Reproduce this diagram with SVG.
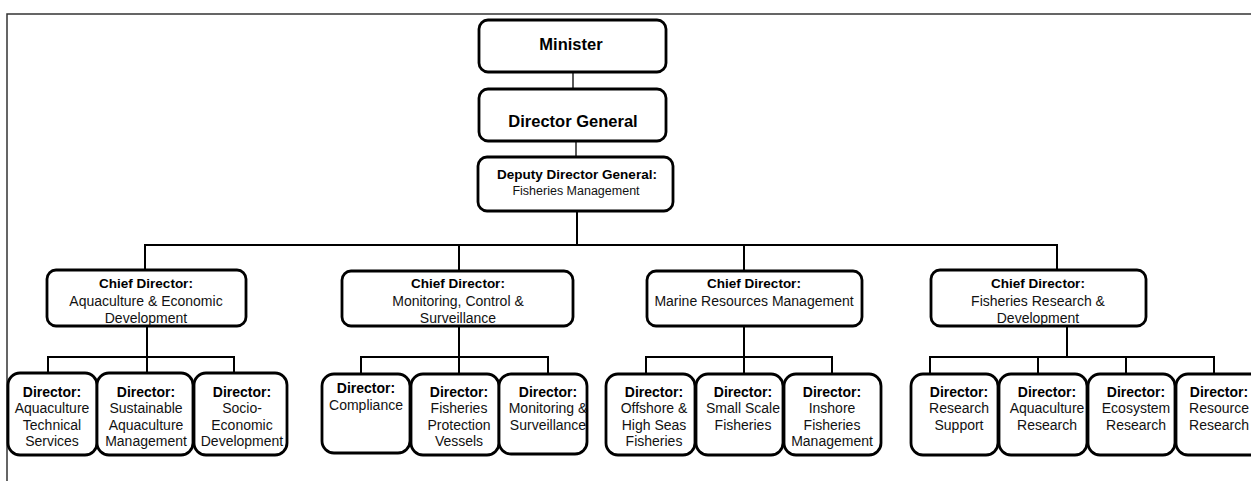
<svg xmlns="http://www.w3.org/2000/svg" width="1251" height="481" viewBox="0 0 1251 481">
<style>
.bg{fill:#fff}
.frame{stroke:#333;stroke-width:1.5;fill:none}
.box{fill:#fff;stroke:#000;stroke-width:2.8}
.ln{stroke:#000;stroke-width:2;fill:none}
.thin{stroke:#000;stroke-width:1.3;fill:none}
text{font-family:"Liberation Sans",Arial,sans-serif;text-anchor:middle;fill:#111}
.b{font-weight:bold;fill:#000}
.t16{font-size:16.5px}
.t14{font-size:14px}
.t135{font-size:13.5px}
.t125{font-size:12.5px}
</style>
<rect class="bg" x="0" y="0" width="1251" height="481"/>
<path class="frame" d="M7,481 V14 H1251"/>

<g id="connectors">
<path class="thin" d="M573,72 V89"/>
<path class="thin" d="M576,141 V157"/>
<path class="ln" d="M577,211 V245"/>
<path class="ln" d="M145,270 V245 H1057 V270"/>
<path class="ln" d="M459,245 V271"/>
<path class="ln" d="M744,245 V271"/>
<path class="ln" d="M147,326 V373"/>
<path class="ln" d="M48,373 V357 H234 V373"/>
<path class="ln" d="M459,326 V374"/>
<path class="ln" d="M361,374 V357 H548 V374"/>
<path class="ln" d="M744,326 V374"/>
<path class="ln" d="M646,374 V357 H832 V374"/>
<path class="ln" d="M1067,326 V357"/>
<path class="ln" d="M930,374 V357 H1214 V374"/>
<path class="ln" d="M1038,357 V374"/>
<path class="ln" d="M1126,357 V374"/>
</g>

<g id="minister">
<rect class="box" x="479" y="20" width="187" height="52" rx="9"/>
<text class="b t16" x="571" y="50">Minister</text>
</g>
<g id="director-general">
<rect class="box" x="479" y="89" width="187" height="52" rx="9"/>
<text class="b t16" x="573" y="127">Director General</text>
</g>
<g id="deputy-director-general">
<rect class="box" x="478" y="157" width="195" height="54" rx="9"/>
<text class="b t135" x="577" y="179">Deputy Director General:</text>
<text class="t125" x="576" y="195">Fisheries Management</text>
</g>

<g id="cd-aquaculture">
<rect class="box" x="47" y="270" width="199" height="56" rx="9"/>
<text class="b t135" x="146" y="288">Chief Director:</text>
<text class="t14" x="146" y="306">Aquaculture &amp; Economic</text>
<text class="t14" x="146" y="323">Development</text>
</g>
<g id="cd-mcs">
<rect class="box" x="342" y="271" width="231" height="55" rx="9"/>
<text class="b t135" x="458" y="288">Chief Director:</text>
<text class="t14" x="458" y="306">Monitoring, Control &amp;</text>
<text class="t14" x="458" y="323">Surveillance</text>
</g>
<g id="cd-marine">
<rect class="box" x="647" y="271" width="215" height="55" rx="9"/>
<text class="b t135" x="754" y="288">Chief Director:</text>
<text class="t14" x="754" y="306">Marine Resources Management</text>
</g>
<g id="cd-research">
<rect class="box" x="931" y="270" width="215" height="56" rx="9"/>
<text class="b t135" x="1038" y="288">Chief Director:</text>
<text class="t14" x="1038" y="306">Fisheries Research &amp;</text>
<text class="t14" x="1038" y="323">Development</text>
</g>

<g id="d-aqua-tech">
<rect class="box" x="8" y="373" width="89" height="82" rx="12"/>
<text class="b t14" x="52" y="397">Director:</text>
<text class="t14" x="52" y="413">Aquaculture</text>
<text class="t14" x="52" y="430">Technical</text>
<text class="t14" x="52" y="446">Services</text>
</g>
<g id="d-sust-aqua">
<rect class="box" x="97" y="373" width="96" height="82" rx="12"/>
<text class="b t14" x="146" y="397">Director:</text>
<text class="t14" x="146" y="413">Sustainable</text>
<text class="t14" x="146" y="430">Aquaculture</text>
<text class="t14" x="146" y="446">Management</text>
</g>
<g id="d-socio">
<rect class="box" x="194" y="373" width="93" height="82" rx="12"/>
<text class="b t14" x="242" y="397">Director:</text>
<text class="t14" x="242" y="413">Socio-</text>
<text class="t14" x="242" y="430">Economic</text>
<text class="t14" x="242" y="446">Development</text>
</g>

<g id="d-compliance">
<rect class="box" x="322" y="374" width="88" height="79" rx="12"/>
<text class="b t14" x="366" y="393">Director:</text>
<text class="t14" x="366" y="410">Compliance</text>
</g>
<g id="d-fpv">
<rect class="box" x="411" y="374" width="88" height="81" rx="12"/>
<text class="b t14" x="459" y="397">Director:</text>
<text class="t14" x="459" y="413">Fisheries</text>
<text class="t14" x="459" y="430">Protection</text>
<text class="t14" x="459" y="446">Vessels</text>
</g>
<g id="d-mon-surv">
<rect class="box" x="499" y="374" width="88" height="80" rx="12"/>
<text class="b t14" x="548" y="397">Director:</text>
<text class="t14" x="548" y="413">Monitoring &amp;</text>
<text class="t14" x="548" y="430">Surveillance</text>
</g>

<g id="d-offshore">
<rect class="box" x="606" y="374" width="89" height="81" rx="12"/>
<text class="b t14" x="654" y="397">Director:</text>
<text class="t14" x="654" y="413">Offshore &amp;</text>
<text class="t14" x="654" y="430">High Seas</text>
<text class="t14" x="654" y="446">Fisheries</text>
</g>
<g id="d-small-scale">
<rect class="box" x="696" y="374" width="87" height="81" rx="12"/>
<text class="b t14" x="743" y="397">Director:</text>
<text class="t14" x="743" y="413">Small Scale</text>
<text class="t14" x="743" y="430">Fisheries</text>
</g>
<g id="d-inshore">
<rect class="box" x="784" y="374" width="97" height="81" rx="12"/>
<text class="b t14" x="832" y="397">Director:</text>
<text class="t14" x="832" y="413">Inshore</text>
<text class="t14" x="832" y="430">Fisheries</text>
<text class="t14" x="832" y="446">Management</text>
</g>

<g id="d-research-support">
<rect class="box" x="911" y="374" width="87" height="81" rx="12"/>
<text class="b t14" x="959" y="397">Director:</text>
<text class="t14" x="959" y="413">Research</text>
<text class="t14" x="959" y="430">Support</text>
</g>
<g id="d-aqua-research">
<rect class="box" x="999" y="374" width="88" height="81" rx="12"/>
<text class="b t14" x="1047" y="397">Director:</text>
<text class="t14" x="1047" y="413">Aquaculture</text>
<text class="t14" x="1047" y="430">Research</text>
</g>
<g id="d-ecosystem">
<rect class="box" x="1088" y="374" width="87" height="81" rx="12"/>
<text class="b t14" x="1136" y="397">Director:</text>
<text class="t14" x="1136" y="413">Ecosystem</text>
<text class="t14" x="1136" y="430">Research</text>
</g>
<g id="d-resource">
<rect class="box" x="1176" y="374" width="88" height="81" rx="12"/>
<text class="b t14" x="1219" y="397">Director:</text>
<text class="t14" x="1219" y="413">Resource</text>
<text class="t14" x="1219" y="430">Research</text>
</g>
</svg>
